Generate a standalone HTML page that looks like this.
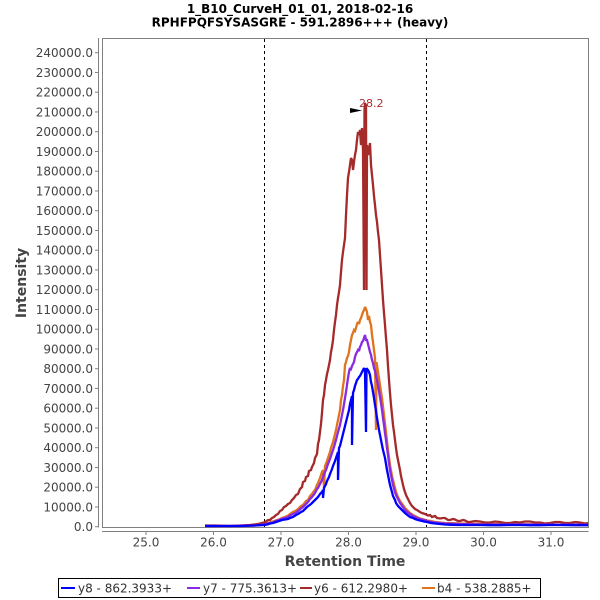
<!DOCTYPE html>
<html><head><meta charset="utf-8"><style>
html,body{margin:0;padding:0;background:#fff;}
svg{display:block;}
text{font-family:"DejaVu Sans","Liberation Sans",sans-serif;}
</style></head><body>
<svg width="600" height="600" viewBox="0 0 600 600" xmlns="http://www.w3.org/2000/svg">
<rect width="600" height="600" fill="#fff"/>
<text x="300" y="13" text-anchor="middle" font-size="12" font-weight="bold" fill="#000">1_B10_CurveH_01_01, 2018-02-16</text>
<text x="300" y="26.5" text-anchor="middle" font-size="12" font-weight="bold" fill="#000">RPHFPQFSYSASGRE - 591.2896+++ (heavy)</text>

<!-- plot area -->
<rect x="102.5" y="38.5" width="486" height="489" fill="#fff" stroke="#808080" stroke-width="1"/>

<!-- dashed lines -->
<line x1="264.5" y1="39" x2="264.5" y2="527" stroke="#000" stroke-width="1" stroke-dasharray="3,3"/>
<line x1="426.5" y1="39" x2="426.5" y2="527" stroke="#000" stroke-width="1" stroke-dasharray="3,3"/>

<!-- y axis -->
<line x1="98.5" y1="38" x2="98.5" y2="527.5" stroke="#808080" stroke-width="1"/>
<g stroke="#808080" stroke-width="1">
<line x1="95" y1="526.7" x2="98.5" y2="526.7"/><line x1="95" y1="506.95" x2="98.5" y2="506.95"/><line x1="95" y1="487.2" x2="98.5" y2="487.2"/><line x1="95" y1="467.45" x2="98.5" y2="467.45"/><line x1="95" y1="447.7" x2="98.5" y2="447.7"/><line x1="95" y1="427.95" x2="98.5" y2="427.95"/><line x1="95" y1="408.2" x2="98.5" y2="408.2"/><line x1="95" y1="388.45" x2="98.5" y2="388.45"/><line x1="95" y1="368.7" x2="98.5" y2="368.7"/><line x1="95" y1="348.95" x2="98.5" y2="348.95"/><line x1="95" y1="329.2" x2="98.5" y2="329.2"/><line x1="95" y1="309.45" x2="98.5" y2="309.45"/><line x1="95" y1="289.7" x2="98.5" y2="289.7"/><line x1="95" y1="269.95" x2="98.5" y2="269.95"/><line x1="95" y1="250.2" x2="98.5" y2="250.2"/><line x1="95" y1="230.45" x2="98.5" y2="230.45"/><line x1="95" y1="210.7" x2="98.5" y2="210.7"/><line x1="95" y1="190.95" x2="98.5" y2="190.95"/><line x1="95" y1="171.2" x2="98.5" y2="171.2"/><line x1="95" y1="151.45" x2="98.5" y2="151.45"/><line x1="95" y1="131.7" x2="98.5" y2="131.7"/><line x1="95" y1="111.95" x2="98.5" y2="111.95"/><line x1="95" y1="92.2" x2="98.5" y2="92.2"/><line x1="95" y1="72.45" x2="98.5" y2="72.45"/><line x1="95" y1="52.7" x2="98.5" y2="52.7"/>
</g>
<g font-size="12" fill="#444" text-anchor="end">
<text x="93" y="531">0.0</text>
<text x="93" y="511.3">10000.0</text>
<text x="93" y="491.6">20000.0</text>
<text x="93" y="471.8">30000.0</text>
<text x="93" y="452.1">40000.0</text>
<text x="93" y="432.3">50000.0</text>
<text x="93" y="412.6">60000.0</text>
<text x="93" y="392.8">70000.0</text>
<text x="93" y="373.1">80000.0</text>
<text x="93" y="353.3">90000.0</text>
<text x="93" y="333.6">100000.0</text>
<text x="93" y="313.8">110000.0</text>
<text x="93" y="294.1">120000.0</text>
<text x="93" y="274.3">130000.0</text>
<text x="93" y="254.6">140000.0</text>
<text x="93" y="234.8">150000.0</text>
<text x="93" y="215.1">160000.0</text>
<text x="93" y="195.3">170000.0</text>
<text x="93" y="175.6">180000.0</text>
<text x="93" y="155.8">190000.0</text>
<text x="93" y="136.1">200000.0</text>
<text x="93" y="116.3">210000.0</text>
<text x="93" y="96.6">220000.0</text>
<text x="93" y="76.8">230000.0</text>
<text x="93" y="57.1">240000.0</text>
</g>

<!-- x axis -->
<line x1="102" y1="531.5" x2="588.5" y2="531.5" stroke="#808080" stroke-width="1"/>
<g stroke="#808080" stroke-width="1">
<line x1="146" y1="531.5" x2="146" y2="535"/><line x1="213.5" y1="531.5" x2="213.5" y2="535"/><line x1="281" y1="531.5" x2="281" y2="535"/><line x1="348.5" y1="531.5" x2="348.5" y2="535"/><line x1="416" y1="531.5" x2="416" y2="535"/><line x1="483.5" y1="531.5" x2="483.5" y2="535"/><line x1="551" y1="531.5" x2="551" y2="535"/>
</g>
<g font-size="12" fill="#444" text-anchor="middle">
<text x="146" y="546.5">25.0</text>
<text x="213.5" y="546.5">26.0</text>
<text x="281" y="546.5">27.0</text>
<text x="348.5" y="546.5">28.0</text>
<text x="416" y="546.5">29.0</text>
<text x="483.5" y="546.5">30.0</text>
<text x="551" y="546.5">31.0</text>
</g>

<text x="345" y="566" text-anchor="middle" font-size="14" font-weight="bold" fill="#444">Retention Time</text>
<text transform="translate(26,283) rotate(-90)" text-anchor="middle" font-size="14" font-weight="bold" fill="#444">Intensity</text>

<!-- series -->
<g fill="none" stroke-width="2.3" stroke-linejoin="miter" stroke-miterlimit="2">
<!-- b4 orange -->
<polyline stroke="#e0731e" points="205,526 230,526 255,525.5 264,524 270,522.5 273,521.5 276,520.5 279,519.5 282,518 285,517 288,515.5 290,514 293,512 296,510.5 298,509 301,506 303,505 306,501 308,500 310,496 312,494 314,491 315,490 317,485 318,483 320,478 322,472 323,470 324,488 325,466 327,461 328,458 330,452 331,448 333,442 334,438 336,430 337,425 339,415 340,410 341,400 342,395 343,386 344,380 345,365 346,362 347,358 348,356 349,352 350,345 351,340 352,335 353,333 354,330 355,331 356,328 357,324 358,322 359,324 360,320 361,318 362,315 363,312 364,310 365,307 366,309 367,312 368,320 369,316 370,322 371,325 372,335 373,342 374,350 375,358 376,430 376.5,362 378,372 380,385 382,398 384,415 386,432 388,450 390,465 392,476 393,480 395,488 396,492 398,497 400,501 403,505 405,508 408,511 410,513 413,515 415,516 418,517.5 420,518.5 424,519.5 427,520.5 431,521 435,522 440,522.5 445,523 452,523.2 460,523.5 470,523.8 480,524 490,524 500,524.2 515,524.3 530,524.4 545,524.5 560,524.6 575,524.6 588,524.6"/>
<!-- y6 brown -->
<polyline stroke="#a52a2a" points="205,525.5 215,525.5 230,526 240,525.5 250,525 258,524 264,522.5 266,521.5 268,520 270,520 272,518 274,517 276,515 278,514 280,511 282,510 284,507 286,506 288,504 290,503 292,500 294,498 296,495 298,494 300,489 302,487 303,482 305,481 306,477 308,476 309,471 311,470 312,467 314,463 315,458 317,454 318,444 319,440 320,432 321,424 322,413 323,400 324,395 325,385 326,380 327,374 328,370 329,365 330,360 331,352 332,347 333,340 334,330 335,322 336,315 337,305 338,298 339,292 340,285 341,272 342,260 343,252 344,245 345,238 346,215 347,195 348,178 349,172 350,165 351,158 352,160 353,170 354,162 355,155 356,150 357,140 358,132 359,135 360,130 361,145 362,128 363,150 364,290 364.5,110 365,103 366,106 366.5,290 367,145 368,155 369,150 370,143 371,165 372,175 373,185 374,196 375,205 376,215 377,222 378,232 379,240 380,255 381,270 382,285 383,300 384,313 385,325 386,338 387,350 388,366 389,380 390,393 391,405 392,415 393,425 394,432 395,440 396,448 397,455 398,460 400,470 401,476 403,485 404,489 406,495 408,499 410,503 412,506 415,509 417,510 420,512 422,513 425,514 428,515.5 430,515 432,517 435,516 437,518 440,518.5 443,518 445,518 448,520 450,520 453,519 455,519.5 458,521 460,521 463,520 465,520.5 468,522 470,522 475,521 480,521.5 485,522.5 490,522.5 495,521.5 500,522 505,523 510,523 515,522 520,522.5 525,521.5 530,521.5 535,522.5 540,522.5 545,523.5 550,523 555,522 560,522 565,523 570,523 575,522 580,522.5 585,523.5 588,523"/>
<!-- y7 purple -->
<polyline stroke="#8a2be2" points="205,526 230,526 255,525.5 264,524.5 270,523 273,522.5 276,521 279,520 282,519 285,518 288,517 290,515.5 293,514 296,512.5 298,511 301,508.5 303,507 306,504 308,502 310,499 312,497 314,494.5 315,493 317,489 318,488 320,484 322,480 323,477 325,472 326,470 328,464 330,459 331,456 333,450 334,447 336,440 338,432 340,425 341,420 343,410 345,398 346,392 347,385 348,378 349,372 350,368 351,369 352,366 353,364 354,362 355,357 356,354 357,352 358,350 359,351 360,347 361,345 362,342 363,341 364,338 365,335 366,340 367,340 368,344 369,348 370,352 371,355 372,360 373,363 374,368 375,371 376,376 377,380 378,385 379,391 380,397 381,403 382,410 383,418 384,425 385,433 386,440 387,448 388,455 389,463 390,470 391,475 393,485 395,492 396,495 398,499 400,503 403,507 405,510 408,512.5 410,514 413,516 415,517 418,518.5 420,519 424,520 427,521 431,522 435,522.5 440,523 445,523.5 452,523.8 460,524 470,524.3 480,524.5 490,524.5 500,524.5 515,524.5 530,524.5 545,524.6 560,524.7 575,524.7 588,524.7"/>
<!-- y8 blue -->
<polyline stroke="#0000ff" points="205,526 220,526 240,526 255,525.5 264,525 267,524.5 270,523.5 273,523 276,522 279,521 282,520 285,519.5 288,519 290,518 293,517 296,515 298,514 301,512 303,511 305,509 307,507 309,505.5 311,504 313,502 315,500 317,498 318,497 320,494 322,492 323,490 323,498 324,488 326,484 327,481 329,477 330,474 332,469 333,466 335,461 336,458 338,452 338,480 339,448 340,446 341,442 342,438 343,434 344,430 345,426 346,422 347,418 348,414 349,410 350,404 351,400 352,396 352,445 353,393 354,390 355,386 356,383 357,380 358,379 359,377 360,376 361,374 362,372 363,370 364,368 365,372 366,432 366.5,368 367,369 368,370 369,372 370,375 371,382 372,386 373,392 374,398 375,405 376,411 377,418 378,424 379,430 380,435 381,440 382,445 383,450 384,454 385,458 386,464 387,470 388,475 390,485 392,492 393,496 395,500 396,503 398,506 400,508 403,511 405,513 408,515.5 410,517 413,518 415,519 418,520 420,520.5 424,521.5 427,522 431,523 435,523.5 440,524 445,524.5 452,524.8 460,525 470,525 480,525 490,525.2 500,525.2 510,525 520,525 530,525.2 540,525.2 550,525 560,525 575,525.2 588,525.2"/>
</g>

<!-- annotation -->
<polygon points="350,108 362,110.5 350,113" fill="#000"/>
<text x="359" y="107" font-size="11" fill="#b03030">28.2</text>

<!-- legend -->
<rect x="58.5" y="578.5" width="482" height="19" fill="#fff" stroke="#000" stroke-width="1"/>
<line x1="61" y1="588" x2="75" y2="588" stroke="#0000ff" stroke-width="2"/>
<text x="78" y="592.5" font-size="12" fill="#333">y8 - 862.3933+</text>
<line x1="187" y1="588" x2="200" y2="588" stroke="#8a2be2" stroke-width="2"/>
<text x="203" y="592.5" font-size="12" fill="#333">y7 - 775.3613+</text>
<line x1="300" y1="588" x2="312" y2="588" stroke="#a52a2a" stroke-width="2"/>
<text x="314" y="592.5" font-size="12" fill="#333">y6 - 612.2980+</text>
<line x1="422" y1="588" x2="435" y2="588" stroke="#e0731e" stroke-width="2"/>
<text x="437" y="592.5" font-size="12" fill="#333">b4 - 538.2885+</text>
</svg>
</body></html>
